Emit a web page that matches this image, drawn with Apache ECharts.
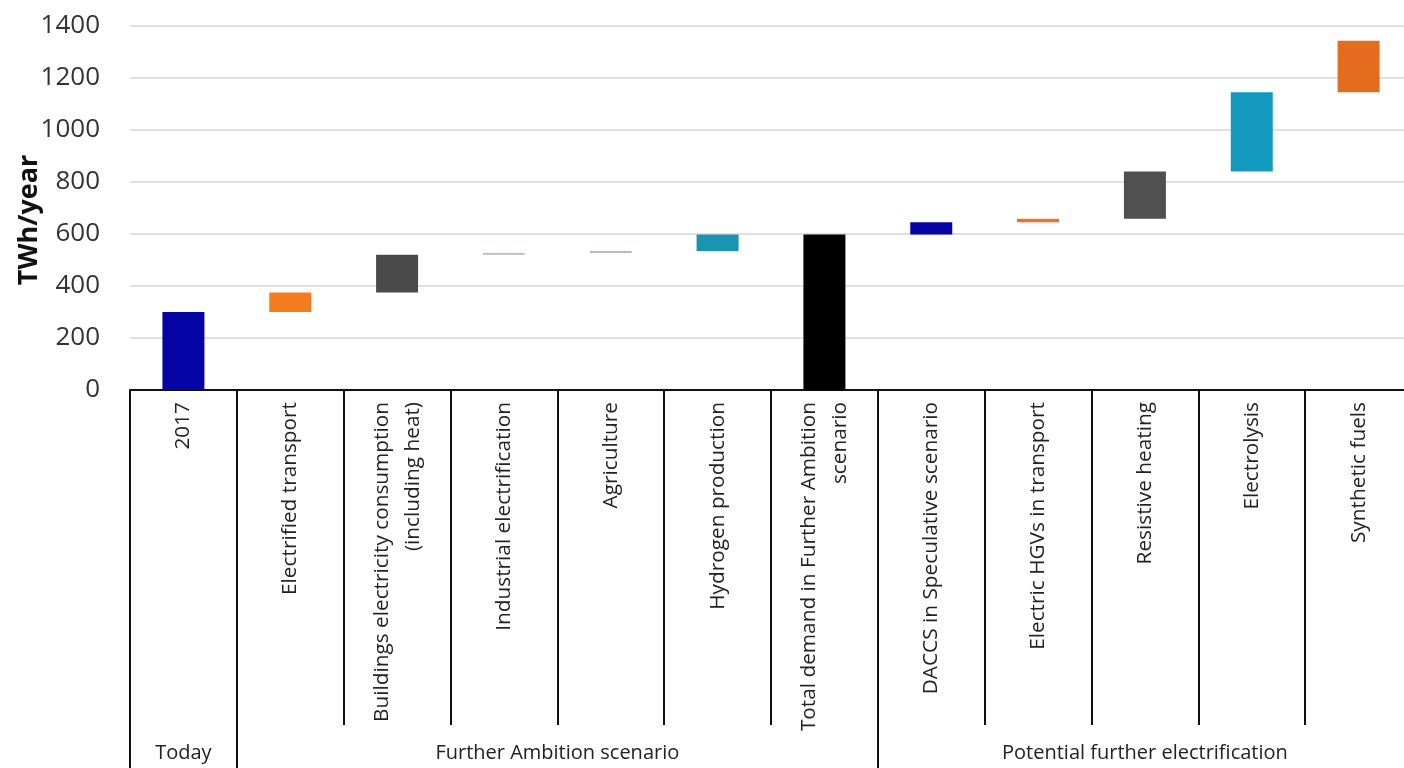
<!DOCTYPE html>
<html>
<head>
<meta charset="utf-8">
<script src="https://cdn.jsdelivr.net/npm/echarts@6/dist/echarts.min.js"></script>
<style>
html,body{margin:0;padding:0;background:#fff;}
#chart{width:1404px;height:768px;}
</style>
</head>
<body>
<div id="chart"></div>
<script>
const categories = [
  '2017',
  'Electrified transport',
  'Buildings electricity consumption\n(including heat)',
  'Industrial electrification',
  'Agriculture',
  'Hydrogen production',
  'Total demand in Further Ambition\nscenario',
  'DACCS in Speculative scenario',
  'Electric HGVs in transport',
  'Resistive heating',
  'Electrolysis',
  'Synthetic fuels'
];
const barBottom = [0, 300, 375, 520, 527, 535, 0, 598, 645, 659, 840, 1145];
const barTop    = [300, 375, 520, 527, 535, 598, 598, 645, 659, 840, 1145, 1343];
const yTicks = [0, 200, 400, 600, 800, 1000, 1200, 1400];
const groupNames = ['Today', 'Further Ambition scenario', 'Potential further electrification'];
const groupBounds = [0, 1, 7, 12];
const groupCenters = [0.5, 4, 9.5];

const barColors = ['#0505a5','#f47c20','#4a4a4a','#b4bfb4','#b4bfb4','#1a94b0','#000000','#0505a5','#ec7030','#505050','#1299bd','#e46c1e'];

const chart = echarts.init(document.getElementById('chart'));
const font = 'Open Sans';
chart.setOption({
  animation: false,
  grid: {left: 130, top: 26, width: 1282, height: 364, outerBoundsMode: 'none', containLabel: false},
  xAxis: [{
    type: 'category',
    data: categories,
    axisLine: {show: true, lineStyle: {color: '#111', width: 2}},
    axisTick: {show: true, interval: 0, length: 335, lineStyle: {color: '#111', width: 2}},
    axisLabel: {interval: 0, rotate: 90, margin: 12, fontFamily: font, fontSize: 20.8, color: '#222', lineHeight: 31},
    splitLine: {show: false}
  }, {
    type: 'value',
    position: 'bottom',
    offset: 335,
    min: 0, max: 12,
    axisLine: {show: false},
    axisTick: {show: true, customValues: groupBounds, length: 43, lineStyle: {color: '#111', width: 2}},
    axisLabel: {show: true, customValues: groupCenters, margin: 18, fontFamily: font, fontSize: 20, color: '#222',
      formatter: v => groupNames[groupCenters.indexOf(v)] || ''},
    splitLine: {show: false}
  }],
  yAxis: {
    type: 'value',
    min: 0, max: 1400, interval: 200,
    name: 'TWh/year',
    nameLocation: 'middle',
    nameGap: 87,
    nameMoveOverlap: false,
    nameTextStyle: {fontFamily: font, fontSize: 27, fontWeight: 'bold', color: '#111', padding: [0, 24, 0, 0]},
    axisLine: {show: false},
    axisTick: {show: false},
    axisLabel: {margin: 30, fontFamily: font, fontSize: 26, color: '#333',
      formatter: v => yTicks.includes(v) ? String(v) : ''},
    splitLine: {show: true, lineStyle: {color: '#d6d6d6', width: 1.5}}
  },
  series: [{
    type: 'bar',
    stack: 'w',
    barWidth: 42,
    itemStyle: {color: 'transparent'},
    silent: true,
    data: barBottom
  }, {
    type: 'bar',
    stack: 'w',
    barWidth: 42,
    data: barTop.map((t, i) => ({value: t - barBottom[i], itemStyle: {color: barColors[i]}}))
  }]
});
</script>
</body>
</html>
